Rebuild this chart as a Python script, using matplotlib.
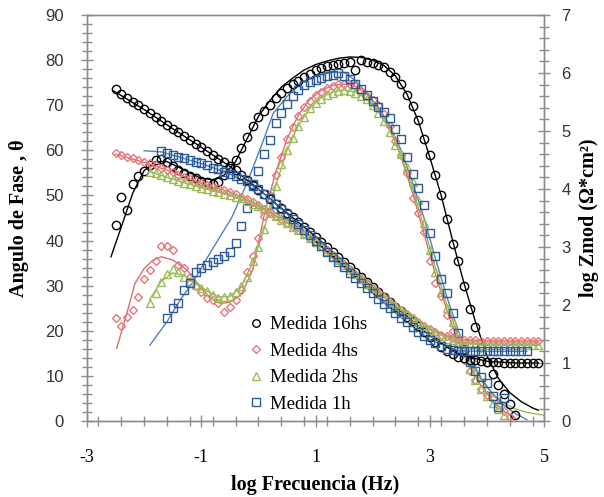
import matplotlib
matplotlib.use("Agg")
import matplotlib.pyplot as plt
from matplotlib.ticker import MultipleLocator
from matplotlib.lines import Line2D
from matplotlib.font_manager import FontProperties

plt.rcParams["axes.unicode_minus"] = False

# ---------------- data ----------------
# 16 hs
x16_phase = [-2.5,-2.4,-2.3,-2.2,-2.1,-2.0,-1.9,-1.8,-1.7,-1.6,-1.5,-1.4,-1.3,-1.2,-1.1,-1.0,
             -0.9,-0.8,-0.7,-0.6,-0.5,-0.4,-0.3,-0.2,-0.1,0.0,0.1,0.2,0.3,0.4,0.5,0.6,0.7,0.8,0.9,1.0,
             1.1,1.2,1.3,1.4,1.5,1.6,1.7,1.8,1.9,2.0,2.1,2.2,2.3,2.4,2.5,2.6,2.7,2.8,2.9,3.0,
             3.1,3.2,3.3,3.4,3.5,3.6,3.7,3.8,3.9,4.0,4.1,4.2,4.3,4.4,4.5]
phase16 = [43.5,49.6,46.8,52.5,54.2,55.5,56.8,57.8,58.0,57.5,56.5,55.6,55.0,54.4,53.8,53.3,
           53.0,52.5,53.0,54.5,56.0,57.8,60.6,63.0,65.4,67.4,68.8,70.0,71.6,72.8,73.8,74.6,75.4,76.3,77.0,77.7,
           78.2,78.6,78.9,79.2,79.4,79.6,77.8,80.0,79.6,79.3,79.0,78.4,77.4,76.3,74.7,72.3,69.8,66.7,62.5,59.0,
           54.5,50.2,44.8,39.2,35.5,30.0,24.8,20.8,16.5,13.0,10.5,8.0,6.0,3.7,1.3]
x16_z = [-2.5,-2.4,-2.3,-2.2,-2.1,-2.0,-1.9,-1.8,-1.7,-1.6,-1.5,-1.4,-1.3,-1.2,-1.1,-1.0,
         -0.9,-0.8,-0.7,-0.6,-0.5,-0.4,-0.3,-0.2,-0.1,0.0,0.1,0.2,0.3,0.4,0.5,0.6,0.7,0.8,0.9,1.0,
         1.1,1.2,1.3,1.4,1.5,1.6,1.7,1.8,1.9,2.0,2.1,2.2,2.3,2.4,2.5,2.6,2.7,2.8,2.9,3.0,
         3.1,3.2,3.3,3.4,3.5,3.6,3.7,3.8,3.9,4.0,4.1,4.2,4.3,4.4,4.5,4.6,4.7,4.8,4.9]
logz16 = [5.72,5.64,5.57,5.50,5.44,5.38,5.31,5.25,5.18,5.11,5.04,4.98,4.91,4.85,4.78,4.72,
          4.66,4.59,4.52,4.46,4.39,4.32,4.24,4.16,4.07,3.99,3.91,3.83,3.75,3.67,3.59,3.51,3.43,3.35,3.26,3.18,
          3.09,3.00,2.92,2.83,2.74,2.65,2.57,2.48,2.39,2.31,2.22,2.13,2.05,1.97,1.89,1.80,1.72,1.63,1.54,1.45,
          1.36,1.27,1.20,1.15,1.11,1.08,1.06,1.05,1.03,1.02,1.01,1.01,1.00,1.00,1.00,1.00,1.00,1.00,1.00]

# 4 hs
x4_phase = [-2.5,-2.4,-2.3,-2.2,-2.1,-2.0,-1.9,-1.8,-1.7,-1.6,-1.5,-1.4,-1.3,-1.2,-1.1,-1.0,
            -0.9,-0.8,-0.7,-0.6,-0.5,-0.4,-0.3,-0.2,-0.1,0.0,0.1,0.2,0.3,0.4,0.5,0.6,0.7,0.8,0.9,1.0,
            1.1,1.2,1.3,1.4,1.5,1.6,1.7,1.8,1.9,2.0,2.1,2.2,2.3,2.4,2.5,2.6,2.7,2.8,2.9,3.0,
            3.1,3.2,3.3,3.4,3.5,3.6,3.7,3.8,3.9,4.0,4.1,4.2,4.3,4.4]
phase4 = [22.8,21.0,23.0,24.6,27.5,31.5,33.5,35.5,38.8,38.8,38.0,34.5,34.0,32.0,30.0,28.5,
          27.2,26.8,26.2,24.2,25.3,26.8,29.0,33.0,36.5,40.5,45.5,50.0,54.5,58.5,62.5,65.2,67.6,69.7,71.0,72.2,
          73.0,73.8,74.3,74.6,74.8,74.7,74.2,73.2,72.0,71.2,70.0,68.0,65.5,62.0,59.0,55.0,49.5,46.0,42.0,35.5,
          30.5,27.8,23.5,20.0,17.0,13.5,11.0,9.0,7.2,5.8,4.8,3.5,2.2,0.8]
x4_z = x16_z
logz4 = [4.62,4.59,4.56,4.53,4.50,4.47,4.44,4.41,4.37,4.33,4.29,4.25,4.21,4.17,4.13,4.10,
         4.07,4.04,4.01,3.98,3.95,3.91,3.87,3.82,3.77,3.72,3.66,3.60,3.54,3.48,3.42,3.36,3.30,3.23,3.16,3.09,
         3.02,2.94,2.86,2.78,2.70,2.62,2.54,2.46,2.38,2.30,2.22,2.14,2.06,1.98,1.91,1.84,1.77,1.70,1.64,1.58,
         1.53,1.49,1.46,1.43,1.41,1.40,1.39,1.39,1.38,1.38,1.38,1.38,1.38,1.38,1.38,1.38,1.38,1.38,1.38]

# 2 hs
x2_phase = [-1.9,-1.8,-1.7,-1.6,-1.5,-1.4,-1.3,-1.2,-1.1,-1.0,
            -0.9,-0.8,-0.7,-0.6,-0.5,-0.4,-0.3,-0.2,-0.1,0.0,0.1,0.2,0.3,0.4,0.5,0.6,0.7,0.8,0.9,1.0,
            1.1,1.2,1.3,1.4,1.5,1.6,1.7,1.8,1.9,2.0,2.1,2.2,2.3,2.4,2.5,2.6,2.7,2.8,2.9,3.0,
            3.1,3.2,3.3,3.4,3.5,3.6,3.7,3.8,3.9,4.0,4.1,4.2,4.3]
phase2 = [26.1,28.3,30.8,32.6,33.7,33.0,32.0,31.0,30.1,29.4,
          28.8,28.0,27.2,27.5,27.8,28.5,30.0,32.0,35.5,38.5,42.5,47.0,52.0,57.0,60.0,62.8,65.3,67.5,69.3,70.5,
          71.4,72.2,72.8,73.2,73.4,73.2,72.7,72.1,71.4,70.0,68.3,66.5,64.0,61.2,59.2,56.4,53.0,49.0,44.0,38.0,
          33.0,28.5,25.0,22.0,19.0,15.0,11.5,9.0,7.0,5.5,4.0,2.6,1.3]
x2_z = [-1.9,-1.8,-1.7,-1.6,-1.5,-1.4,-1.3,-1.2,-1.1,-1.0,
        -0.9,-0.8,-0.7,-0.6,-0.5,-0.4,-0.3,-0.2,-0.1,0.0,0.1,0.2,0.3,0.4,0.5,0.6,0.7,0.8,0.9,1.0,
        1.1,1.2,1.3,1.4,1.5,1.6,1.7,1.8,1.9,2.0,2.1,2.2,2.3,2.4,2.5,2.6,2.7,2.8,2.9,3.0,
        3.1,3.2,3.3,3.4,3.5,3.6,3.7,3.8,3.9,4.0,4.1,4.2,4.3,4.4,4.5,4.6,4.7,4.8,4.9]
logz2 = [4.30,4.27,4.24,4.20,4.17,4.14,4.11,4.08,4.05,4.02,
         4.00,3.97,3.95,3.92,3.90,3.87,3.84,3.80,3.75,3.70,3.65,3.59,3.53,3.47,3.41,3.35,3.29,3.22,3.15,3.08,
         3.01,2.93,2.85,2.77,2.69,2.61,2.53,2.45,2.37,2.29,2.21,2.13,2.05,1.98,1.91,1.84,1.77,1.70,1.63,1.57,
         1.51,1.46,1.42,1.39,1.36,1.34,1.33,1.32,1.31,1.31,1.31,1.31,1.31,1.31,1.31,1.31,1.31,1.31,1.31]

# 1 h
x1_phase = [-1.6,-1.5,-1.4,-1.3,-1.2,-1.1,-1.0,
            -0.9,-0.8,-0.7,-0.6,-0.5,-0.4,-0.3,-0.2,-0.1,0.0,0.1,0.2,0.3,0.4,0.5,0.6,0.7,0.8,0.9,1.0,
            1.1,1.2,1.3,1.4,1.5,1.6,1.7,1.8,1.9,2.0,2.1,2.2,2.3,2.4,2.5,2.6,2.7,2.8,2.9,3.0,
            3.1,3.2,3.3,3.4,3.5,3.6,3.7,3.8,3.9,4.0,4.1,4.2,4.3]
phase1 = [22.8,25.0,26.1,29.0,30.5,33.1,33.9,
          34.6,35.2,36.0,36.5,37.5,39.5,43.2,47.2,52.0,55.5,59.2,62.3,66.0,68.2,70.3,72.0,73.4,74.4,75.1,75.6,
          76.1,76.5,76.8,77.1,76.5,75.8,74.8,73.5,72.3,70.9,69.5,68.5,67.2,64.8,62.5,58.6,54.8,51.6,47.8,41.6,
          36.5,31.5,28.3,24.0,19.5,16.0,13.0,11.0,9.8,8.4,5.5,3.2,5.0]
x1_z = [-1.7,-1.6,-1.5,-1.4,-1.3,-1.2,-1.1,-1.0,
        -0.9,-0.8,-0.7,-0.6,-0.5,-0.4,-0.3,-0.2,-0.1,0.0,0.1,0.2,0.3,0.4,0.5,0.6,0.7,0.8,0.9,1.0,
        1.1,1.2,1.3,1.4,1.5,1.6,1.7,1.8,1.9,2.0,2.1,2.2,2.3,2.4,2.5,2.6,2.7,2.8,2.9,3.0,
        3.1,3.2,3.3,3.4,3.5,3.6,3.7,3.8,3.9,4.0,4.1,4.2,4.3,4.4,4.5,4.6,4.7]
logz1 = [4.65,4.62,4.59,4.56,4.53,4.50,4.47,4.44,
         4.41,4.37,4.34,4.30,4.26,4.22,4.18,4.13,4.08,4.00,3.92,3.84,3.75,3.66,3.57,3.48,3.39,3.30,3.20,3.10,
         3.01,2.92,2.83,2.74,2.65,2.56,2.47,2.38,2.29,2.20,2.11,2.02,1.94,1.86,1.78,1.70,1.62,1.54,1.46,1.40,
         1.34,1.29,1.25,1.23,1.21,1.20,1.20,1.20,1.20,1.20,1.20,1.20,1.20,1.20,1.20,1.20,1.20]

# fitted curves (phase)
fit16_x = [-2.58,-2.4,-2.2,-2.0,-1.8,-1.6,-1.4,-1.2,-1.0,-0.8,-0.6,-0.4,-0.2,0.0,0.2,0.4,0.6,0.8,1.0,1.2,
           1.4,1.6,1.8,2.0,2.2,2.4,2.6,2.8,3.0,3.2,3.4,3.6,3.8,4.0,4.2,4.4,4.6,4.8,4.9]
fit16_p = [36.4,43,50.5,55.5,57.5,57.5,56.3,55,53.8,53.5,54.5,57.5,62.5,67.5,71.0,74.0,76.0,77.8,79.0,79.8,
           80.4,80.7,80.6,80.0,78.8,76.5,72.5,66.5,58.5,50.0,40.0,30.5,22,14.5,9.5,6.3,4.3,2.9,2.4]
fit4_x = [-2.48,-2.3,-2.16,-2.0,-1.85,-1.7,-1.5,-1.25,-1.02,-0.85,-0.67,-0.5,-0.3,-0.1,0.1,0.3,0.5,0.7,0.9,1.1,
          1.3,1.5,1.7,1.9,2.1,2.3,2.5,2.7,2.9,3.1,3.3,3.5,3.7,3.9,4.1,4.3,4.5]
fit4_p = [16.1,24,30.5,33.8,35.6,36.4,35.7,33.5,29.8,27.2,26.1,26.3,28.0,33.5,45.5,55.0,62.5,67.8,71.3,73.3,
          74.4,74.7,74.2,72.5,69.5,65.0,58.5,50.5,41.5,32.5,24.5,17.5,12.0,7.8,4.5,2.2,0.6]
fit2_x = [-1.9,-1.7,-1.5,-1.3,-1.1,-0.9,-0.7,-0.5,-0.3,-0.1,0.1,0.3,0.5,0.7,0.9,1.1,1.3,1.5,1.7,1.9,
          2.1,2.3,2.5,2.7,2.9,3.1,3.3,3.5,3.7,3.9,4.1,4.3,4.5,4.7,4.99]
fit2_p = [27.0,31.0,32.8,32.3,30.5,28.8,27.5,27.6,29.8,35.0,42.5,52.0,60.0,65.5,69.3,71.7,73.0,73.4,72.9,71.3,
          68.5,64.5,58.8,51.5,43.0,34.0,25.8,18.8,13.2,9.0,6.0,4.0,2.7,1.9,1.3]
fit1_x = [-1.9,-1.6,-1.37,-1.14,-0.9,-0.67,-0.47,-0.2,0.09,0.26,0.5,0.73,0.9,1.08,1.3,1.5,1.7,1.9,2.1,2.3,
          2.5,2.7,2.9,3.1,3.3,3.5,3.7,3.9,4.1,4.3,4.5,4.7]
fit1_p = [16.8,22.0,26.8,30.9,36.1,40.9,45.0,52.7,62.3,68.2,71.9,74.8,76.0,76.7,77.3,77.3,75.5,72.6,69.5,65.5,
          60.0,52.8,45.0,36.0,27.5,20.0,14.0,9.5,6.0,3.5,1.6,0.3]

# fitted curves (log Zmod)
fitz16_x = [-2.55,-2.0,-1.5,-1.0,-0.5,0.0,0.5,1.0,1.5,2.0,2.5,3.0,3.5,4.0,4.5,4.9]
fitz16 = [5.70,5.37,5.04,4.72,4.39,4.0,3.59,3.18,2.74,2.31,1.89,1.47,1.15,1.03,1.0,1.0]
fitz4_x = [-2.5,-2.0,-1.5,-1.0,-0.5,0.0,0.5,1.0,1.5,2.0,2.5,3.0,3.5,4.0,4.9]
fitz4 = [4.60,4.46,4.29,4.10,3.95,3.72,3.42,3.09,2.70,2.30,1.91,1.58,1.41,1.38,1.38]
fitz2_x = [-1.9,-1.5,-1.0,-0.5,0.0,0.5,1.0,1.5,2.0,2.5,3.0,3.5,4.0,4.9]
fitz2 = [4.30,4.17,4.02,3.90,3.70,3.41,3.08,2.69,2.29,1.91,1.57,1.36,1.31,1.31]
fitz1_x = [-2.0,-1.7,-1.0,-0.5,0.0,0.5,1.0,1.5,2.0,2.5,3.0,3.5,4.0,4.7]
fitz1 = [4.66,4.64,4.44,4.26,4.00,3.57,3.10,2.65,2.20,1.78,1.40,1.21,1.20,1.20]

labels = ["Medida 16hs", "Medida 4hs", "Medida 2hs", "Medida 1h"]
xticks = [-3, -1, 1, 3, 5]
xticklabels = ["-3", "-1", "1", "3", "5"]
phase_ticks = [0, 10, 20, 30, 40, 50, 60, 70, 80, 90]
logz_ticks = [0, 1, 2, 3, 4, 5, 6, 7]

# ---------------- styling ----------------
C16, C4, C2, C1 = "#000000", "#E8757A", "#9BBB59", "#2D5B9A"
L16, L4, L2, L1 = "#000000", "#E06A6A", "#9BBB59", "#4F81BD"
GRAY = "#8C8C8C"
SERIF = "Liberation Serif"
SANS = "Liberation Sans"

fig = plt.figure(figsize=(6.04, 4.97), dpi=100)
ax = fig.add_axes([87/604, 1-421/497, 457/604, 406/497])
ax2 = ax.twinx()

mk = dict(linestyle="none", markerfacecolor="none", markeredgewidth=1.0)
series = [
    (x16_phase, phase16, x16_z, logz16, fit16_x, fit16_p, fitz16_x, fitz16, "o", 6.0, C16, L16),
    (x4_phase, phase4, x4_z, logz4, fit4_x, fit4_p, fitz4_x, fitz4, "D", 4.3, C4, L4),
    (x2_phase, phase2, x2_z, logz2, fit2_x, fit2_p, fitz2_x, fitz2, "^", 6.3, C2, L2),
    (x1_phase, phase1, x1_z, logz1, fit1_x, fit1_p, fitz1_x, fitz1, "s", 6.3, C1, L1),
]
handles = []
for (xp, yp, xz, yz, fxp, fyp, fxz, fyz, m, ms, c, lc), lab in zip(series, labels):
    ax.plot(fxp, fyp, color=lc, lw=1.0, zorder=2)
    ax.plot(xp, yp, marker=m, markersize=ms, markeredgecolor=c, zorder=3, **mk)
    ax2.plot(fxz, fyz, color=lc, lw=1.0, zorder=2)
    ax2.plot(xz, yz, marker=m, markersize=ms, markeredgecolor=c, zorder=3, **mk)
    handles.append(Line2D([], [], marker=m, markersize=ms - 0.6, markeredgecolor=c, **mk))

ax.set_xlim(-3, 5)
ax.set_ylim(0, 90)
ax2.set_ylim(0, 7)

ax.set_xticks(xticks)
ax.set_xticklabels(xticklabels, fontfamily=SERIF, fontsize=13)
ax.set_yticks(phase_ticks)
ax.set_yticklabels([str(v) for v in phase_ticks], fontfamily=SANS, fontsize=12, color="#333333")
ax2.set_yticks(logz_ticks)
ax2.set_yticklabels([str(v) for v in logz_ticks], fontfamily=SANS, fontsize=12, color="#333333")
ax.xaxis.set_minor_locator(MultipleLocator(0.4))
ax.yaxis.set_minor_locator(MultipleLocator(2))
ax2.yaxis.set_minor_locator(MultipleLocator(0.2))

for a in (ax, ax2):
    for s in a.spines.values():
        s.set_color(GRAY)
        s.set_linewidth(1.0)
    a.tick_params(which="major", direction="inout", length=9, width=1.0, color=GRAY)
    a.tick_params(which="minor", direction="inout", length=7, width=1.0, color=GRAY)

ax.tick_params(axis="x", which="major", pad=16)
ax.tick_params(axis="y", which="major", pad=12)
ax2.tick_params(axis="y", which="major", pad=8)

ax.set_xlabel("log Frecuencia (Hz)", fontsize=14.5, fontweight="bold", family=SERIF, labelpad=6)
ax.set_ylabel("Angulo de Fase , θ", fontsize=14.5, fontweight="bold", family=SERIF, labelpad=12)
ax2.set_ylabel("log Zmod (Ω*cm²)", fontsize=14.5, fontweight="bold", family=SERIF, labelpad=6)

leg = ax2.legend(handles, labels, loc="lower left", bbox_to_anchor=(0.325, -0.012),
                 frameon=False, prop=FontProperties(family=SERIF, size=13.5), handlelength=0.8,
                 handletextpad=0.35, labelspacing=0.5, borderaxespad=0.3)

fig.savefig("out.png", dpi=100)
